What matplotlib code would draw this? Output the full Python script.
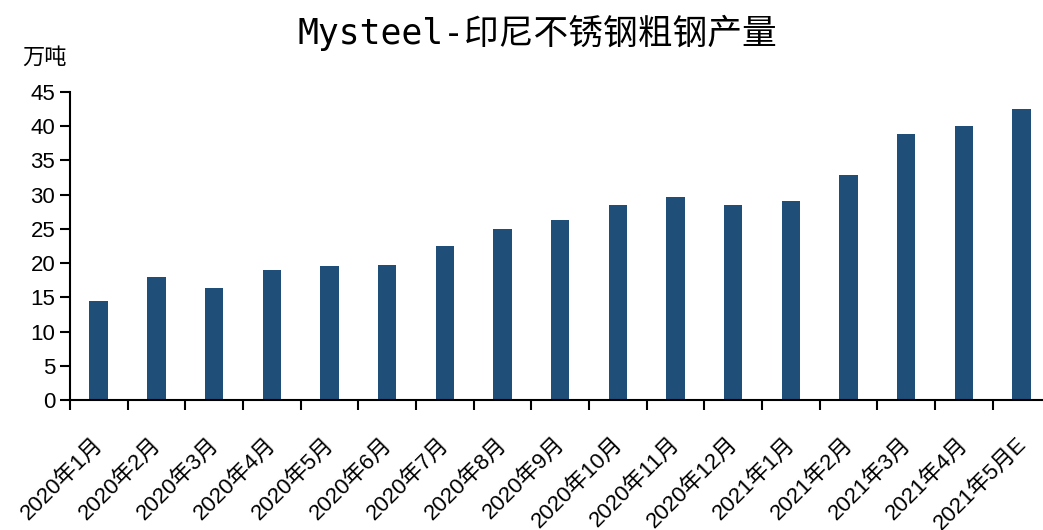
import matplotlib.pyplot as plt
import matplotlib.transforms as mtransforms
import numpy as np

plt.rcParams['font.family'] = ['Liberation Sans', 'Noto Sans CJK SC']

months = ["2020年1月", "2020年2月", "2020年3月", "2020年4月", "2020年5月", "2020年6月",
          "2020年7月", "2020年8月", "2020年9月", "2020年10月", "2020年11月", "2020年12月",
          "2021年1月", "2021年2月", "2021年3月", "2021年4月", "2021年5月E"]
output = [14.5, 18.0, 16.4, 19.0, 19.6, 19.7, 22.5, 25.0, 26.3, 28.5, 29.6, 28.5,
          29.0, 32.9, 38.9, 40.0, 42.5]

fig = plt.figure(figsize=(10.43, 5.30), dpi=100)
ax = fig.add_axes([0.067, 0.245, 0.94, 0.582])

x = np.arange(len(months))
ax.bar(x, output, width=0.32, color='#1F4E79')

ax.set_ylim(0, 45)
ax.set_yticks(np.arange(0, 46, 5))
ax.set_xlim(-0.5, 16.35)
ax.set_xticks(x)
ax.set_xticklabels(months, rotation=45, ha='right', rotation_mode='anchor', fontsize=16)
ax.set_xticks(np.arange(-0.5, 16.6, 1), minor=True)
ax.tick_params(axis='x', which='major', length=0, pad=24)
ax.tick_params(axis='x', which='minor', length=7, width=1.5, direction='out')
ax.tick_params(axis='y', length=7, width=1.5, labelsize=16, direction='out')

# nudge the rotated labels a little to the left
shift = mtransforms.ScaledTranslation(-6 / 100, 0, fig.dpi_scale_trans)
for lbl in ax.get_xticklabels():
    lbl.set_transform(lbl.get_transform() + shift)

for s in ['top', 'right']:
    ax.spines[s].set_visible(False)
for s in ['left', 'bottom']:
    ax.spines[s].set_linewidth(1.5)

fig.text(0.515, 0.938, "Mysteel-印尼不锈钢粗钢产量", ha='center', va='center', fontsize=25,
         family=['DejaVu Sans Mono', 'Noto Sans CJK SC'])
fig.text(0.021, 0.892, "万吨", ha='left', va='center', fontsize=16,
         family=['Noto Sans CJK SC'])

plt.savefig('out.png')
